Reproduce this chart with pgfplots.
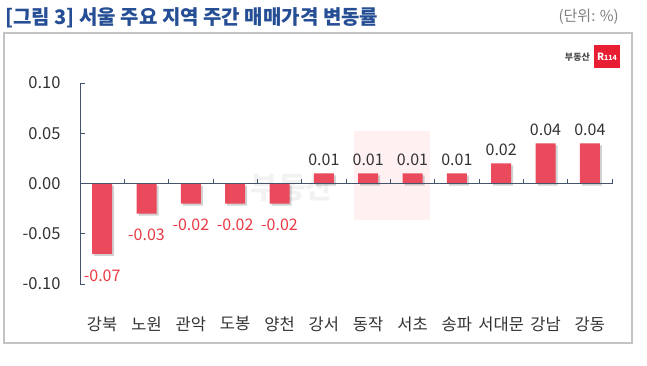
\documentclass[border=0pt]{standalone}
\usepackage{fontspec}
\setmainfont{Noto Sans CJK KR}
\usepackage{pgfplots}
\pgfplotsset{compat=1.18}
\definecolor{barred}{RGB}{234,74,92}
\definecolor{lblred}{RGB}{232,58,68}
\definecolor{axisc}{RGB}{68,84,106}
\definecolor{titleblue}{RGB}{38,78,148}
\definecolor{framegray}{RGB}{195,195,195}
\definecolor{txt}{RGB}{51,51,51}
\definecolor{logored}{RGB}{232,30,50}
\begin{document}
\begin{tikzpicture}[x=1pt,y=1pt]
\path[use as bounding box] (0,0) rectangle (647,365);
\draw[framegray, line width=1.2pt] (4,22) rectangle (632,332);
\node[anchor=west, text=titleblue, font=\fontsize{20}{23}\selectfont\bfseries, inner sep=0] at (5,347) {[그림 3] 서울 주요 지역 주간 매매가격 변동률};
\node[anchor=east, text=gray, font=\fontsize{15}{17}\selectfont, inner sep=0] at (619,348) {(단위: \%)};
% watermark
\fill[red!60, opacity=0.09] (354,145) rectangle (430,234);
\node[text=black, opacity=0.05, font=\fontsize{30}{32}\selectfont\bfseries] at (292,178) {부동산};
% logo
\node[anchor=east, text=black!70, font=\fontsize{9}{10}\selectfont\bfseries, inner sep=0] at (590,308) {부동산};
\fill[logored] (594,297) rectangle (620,320);
\node[text=white, font=\fontsize{10}{11}\selectfont\bfseries, inner sep=0] at (607,308.5) {R\fontsize{7}{8}\selectfont 114};
\begin{axis}[
  at={(80pt,81pt)}, anchor=south west,
  scale only axis, width=532pt, height=201pt,
  xmin=-0.5, xmax=11.5, ymin=-0.1, ymax=0.1,
  axis y line*=left, axis x line*=bottom,
  x axis line style={draw=none},
  xtick={0,...,11},
  xticklabels={강북,노원,관악,도봉,양천,강서,동작,서초,송파,서대문,강남,강동},
  xtick style={draw=none},
  xticklabel style={font=\fontsize{16.5}{18}\selectfont, text=txt, yshift=-24pt},
  ytick={-0.1,-0.05,0,0.05,0.1},
  yticklabel style={/pgf/number format/fixed, /pgf/number format/fixed zerofill, /pgf/number format/precision=2, font=\fontsize{16.5}{18}\selectfont, text=txt, xshift=-16pt},
  /pgf/number format/assume math mode=true,
  y axis line style={axisc, line width=1pt},
  ytick style={axisc, line width=0.8pt},
  tick align=inside, major tick length=5pt,
  ybar, bar width=20pt,
  clip=false,
]
% shadows
\addplot[fill=black, draw=none, opacity=0.18, bar shift=2pt, yshift=-2pt]
  coordinates {(0,-0.07) (1,-0.03) (2,-0.02) (3,-0.02) (4,-0.02) (5,0.01) (6,0.01) (7,0.01) (8,0.01) (9,0.02) (10,0.04) (11,0.04)};
\addplot[fill=barred, draw=none, bar shift=0pt,
  nodes near coords, nodes near coords style={text=lblred, font=\fontsize{16}{18}\selectfont, /pgf/number format/fixed, /pgf/number format/fixed zerofill, /pgf/number format/precision=2, yshift=-12pt}]
  coordinates {(0,-0.07) (1,-0.03) (2,-0.02) (3,-0.02) (4,-0.02)};
\addplot[fill=barred, draw=none, bar shift=0pt,
  nodes near coords, nodes near coords style={text=txt, font=\fontsize{16}{18}\selectfont, /pgf/number format/fixed, /pgf/number format/fixed zerofill, /pgf/number format/precision=2, yshift=4pt}]
  coordinates {(5,0.01) (6,0.01) (7,0.01) (8,0.01) (9,0.02) (10,0.04) (11,0.04)};
\draw[axisc, line width=1pt] (axis cs:-0.5,0) -- (axis cs:11.5,0);
\pgfplotsinvokeforeach{0.5,1.5,...,11.5}{\draw[axisc, line width=0.8pt] (axis cs:#1,0) -- ([yshift=5pt]axis cs:#1,0);}
\end{axis}
\end{tikzpicture}
\end{document}
